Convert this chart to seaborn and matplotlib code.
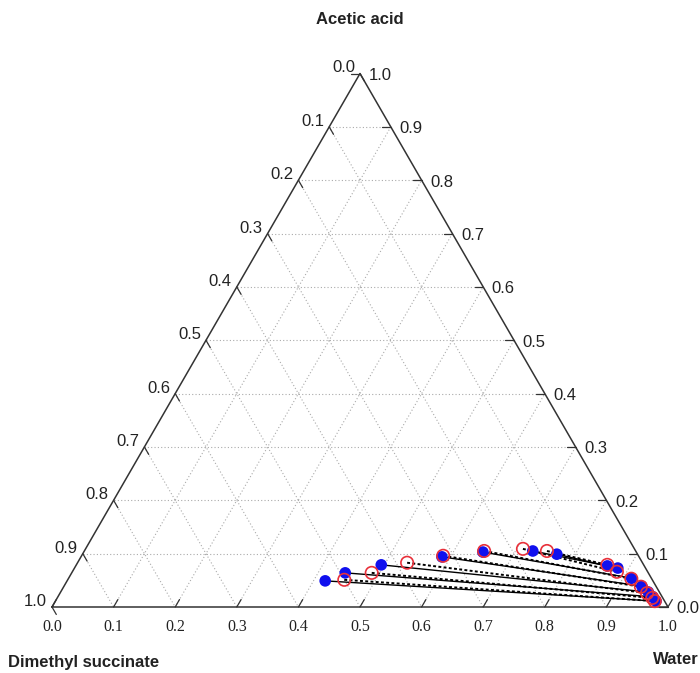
import numpy as np
import pandas as pd
import matplotlib
matplotlib.use("Agg")
import matplotlib.pyplot as plt
import seaborn as sns

# ternary data: mass fractions (water, acetic acid); DMS = 1 - water - acid
exp_org_water = [0.770, 0.728, 0.648, 0.586, 0.495, 0.444, 0.419]
exp_org_acid = [0.099, 0.105, 0.103, 0.094, 0.079, 0.064, 0.049]
exp_aq_water = [0.863, 0.882, 0.914, 0.938, 0.954, 0.966, 0.975]
exp_aq_acid = [0.077, 0.073, 0.054, 0.039, 0.028, 0.019, 0.011]

calc_org_water = [0.751, 0.710, 0.649, 0.587, 0.535, 0.487, 0.449]
calc_org_acid = [0.105, 0.109, 0.105, 0.096, 0.083, 0.064, 0.051]
calc_aq_water = [0.862, 0.884, 0.914, 0.937, 0.953, 0.966, 0.973]
calc_aq_acid = [0.079, 0.066, 0.053, 0.038, 0.026, 0.017, 0.011]

tick_values = [round(0.1 * i, 1) for i in range(11)]

H = np.sqrt(3) / 2


def tern(water, acid):
    water = np.asarray(water, dtype=float)
    acid = np.asarray(acid, dtype=float)
    return water + acid / 2, acid * H


sns.set_style("white")
plt.rcParams['font.family'] = ['Liberation Sans', 'DejaVu Sans']

fig = plt.figure(figsize=(7, 6.73), dpi=100)
ax = fig.add_axes([0, 0, 1, 1])
ax.set_xlim(-52 / 616, 648 / 616)
ax.set_ylim((607 - 673) / 616, 607 / 616)
ax.axis("off")

# grid lines
for v in tick_values[1:-1]:
    # constant acid
    x, y = tern([0, 1 - v], [v, v])
    ax.plot(x, y, color="#aaaaaa", lw=0.8, ls=(0, (1, 2)), zorder=1)
    # constant water
    x, y = tern([v, v], [0, 1 - v])
    ax.plot(x, y, color="#aaaaaa", lw=0.8, ls=(0, (1, 2)), zorder=1)
    # constant DMS
    x, y = tern([0, 1 - v], [1 - v, 0])
    ax.plot(x, y, color="#aaaaaa", lw=0.8, ls=(0, (1, 2)), zorder=1)

# triangle outline
x, y = tern([0, 1, 0, 0], [0, 0, 1, 0])
ax.plot(x, y, color="#333333", lw=1.1, zorder=2)

tl = 0.014
for v in tick_values:
    # bottom axis (water), ticks up-right
    bx, by = tern([v, v], [0, tl])
    ax.plot(bx, by, color="#333333", lw=0.9, zorder=2)
    ax.text(v, -0.033, f"{v:.1f}", ha="center", va="center", fontsize=11.5,
            family=["Liberation Serif", "DejaVu Serif"], color="#222222")
    # right axis (acetic acid), ticks to the left
    rx, ry = tern([1 - v, 1 - v - tl], [v, v])
    ax.plot(rx, ry, color="#333333", lw=0.9, zorder=2)
    px, py = tern(1 - v, v)
    ax.text(px + 0.014, py - 0.003, f"{v:.1f}", ha="left", va="center",
            fontsize=12, color="#222222")
    # left axis (dimethyl succinate), ticks down-right
    lx, ly = tern([0, tl], [1 - v, 1 - v - tl])
    ax.plot(lx, ly, color="#333333", lw=0.9, zorder=2)
    px, py = tern(0, 1 - v)
    ax.text(px - 0.008, py + 0.009, f"{v:.1f}", ha="right", va="center",
            fontsize=12, color="#222222")

# tie lines
for i in range(len(exp_org_water)):
    x, y = tern([exp_org_water[i], exp_aq_water[i]], [exp_org_acid[i], exp_aq_acid[i]])
    ax.plot(x, y, color="black", lw=1.0, zorder=3)
    x, y = tern([calc_org_water[i], calc_aq_water[i]], [calc_org_acid[i], calc_aq_acid[i]])
    ax.plot(x, y, color="black", lw=1.4, ls=(0, (1.5, 1.2)), zorder=3)

ex, ey = tern(exp_org_water + exp_aq_water, exp_org_acid + exp_aq_acid)
cx, cy = tern(calc_org_water + calc_aq_water, calc_org_acid + calc_aq_acid)
df_exp = pd.DataFrame({"x": ex, "y": ey})
df_calc = pd.DataFrame({"x": cx, "y": cy})

sns.scatterplot(data=df_exp, x="x", y="y", ax=ax, s=70, color="#1010ee",
                edgecolor="none", zorder=4, legend=False)
sns.scatterplot(data=df_calc, x="x", y="y", ax=ax, s=80, facecolor="none",
                edgecolor="#e8303a", linewidth=1.2, zorder=5, legend=False)
ax.set_xlabel("")
ax.set_ylabel("")

# vertex labels
ax.text(0.499, (607 - 20) / 616, "Acetic acid", ha="center", va="center",
        fontsize=12, fontweight="bold", color="#222222")
ax.text(-44 / 616, (607 - 662) / 616, "Dimethyl succinate", ha="left", va="center",
        fontsize=12, fontweight="bold", color="#222222")
ax.text(647 / 616, (607 - 660) / 616, "Water", ha="right", va="center",
        fontsize=12, fontweight="bold", color="#222222")

fig.savefig("out.png", dpi=100)
